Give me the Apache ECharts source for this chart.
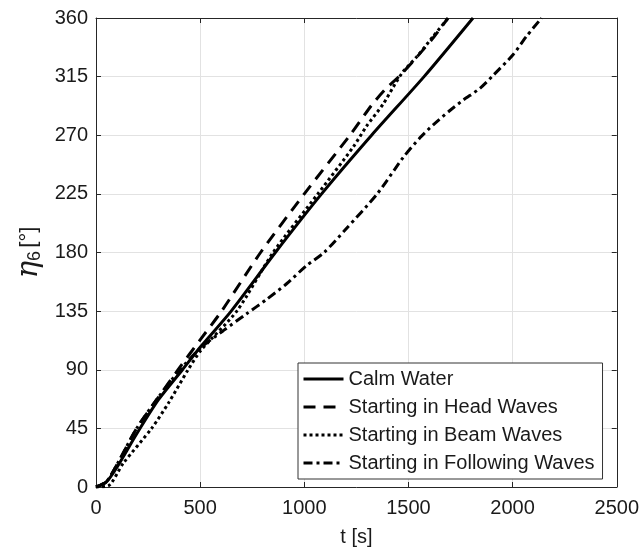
<!DOCTYPE html>
<html><head><meta charset="utf-8">
<script src="https://cdn.jsdelivr.net/npm/echarts@6/dist/echarts.min.js"></script>
<style>html,body{margin:0;padding:0;background:#fff}#c{width:642px;height:553px}</style>
</head><body><div id="c"></div>
<script>
// ---- data ----
const seriesNames = ['Calm Water', 'Starting in Head Waves', 'Starting in Beam Waves', 'Starting in Following Waves'];

const calmT   = [0, 50, 100, 200, 300, 415, 504, 649, 861, 1083, 1323, 1575, 1810];
const calmEta = [0, 4, 15, 42, 67, 90, 108, 135, 180, 225, 270, 315, 360];

const headT   = [0, 50, 100, 195, 300, 394, 500, 603, 790, 1000, 1219, 1323, 1387, 1460, 1540, 1620, 1690];
const headEta = [0, 4, 17, 45, 69, 90, 113, 135, 180, 225, 270, 293, 305, 316, 330, 345, 360];

const beamT   = [0, 60, 130, 267, 350, 442, 504, 676, 850, 1065, 1235, 1299, 1379, 1427, 1475, 1539, 1619, 1691];
const beamEta = [0, 1, 18, 45, 65, 90, 105, 135, 180, 225, 261, 277, 294, 307, 319, 330, 346, 360];

const follT   = [0, 50, 100, 195, 300, 403, 504, 611, 723, 819, 915, 1011, 1095, 1200, 1350, 1475, 1555, 1619, 1699, 1763, 1843, 1907, 2003, 2067, 2139];
const follEta = [0, 4, 17, 45, 69, 90, 107, 120, 133, 144, 156, 170, 180, 198, 225, 253, 268, 278, 289, 297, 306, 316, 332, 346, 360];

const xMin = 0, xMax = 2500, xStep = 500;
const yMin = 0, yMax = 360, yStep = 45;

function pairs(t, e) { return t.map((v, i) => [v, e[i]]); }

const chart = echarts.init(document.getElementById('c'), null, { renderer: 'canvas' });
const font = '"Liberation Sans", Arial, sans-serif';
const axisCol = '#262626';
const gridCol = '#e2e2e2';

function baseAxis(extra) {
  return Object.assign({
    type: 'value',
    axisLine: { show: true, onZero: false, lineStyle: { color: axisCol, width: 1 } },
    axisTick: { show: true, inside: true, length: 5, lineStyle: { color: axisCol, width: 1 } },
    splitLine: { show: false },
    axisLabel: { show: false }
  }, extra);
}

const lineW = 3;
const styles = [
  { type: 'solid' },
  { type: [12, 8] },
  { type: [3, 3] },
  { type: [9, 4, 3, 4] }
];
const dataSets = [pairs(calmT, calmEta), pairs(headT, headEta), pairs(beamT, beamEta), pairs(follT, follEta)];

const option = {
  animation: false,
  backgroundColor: '#fff',
  grid: { left: 96, right: 25, top: 18, bottom: 66, containLabel: false },
  xAxis: [
    baseAxis({
      min: xMin, max: xMax, interval: xStep, position: 'bottom',
      axisLabel: { show: true, color: '#1a1a1a', fontSize: 20, fontFamily: font, margin: 11, formatter: v => String(v) },
      splitLine: { show: true, lineStyle: { color: gridCol, width: 1 } },
      name: 't [s]', nameLocation: 'middle', nameGap: 40,
      nameTextStyle: { color: '#1a1a1a', fontSize: 20, fontFamily: font }
    }),
    baseAxis({ min: xMin, max: xMax, interval: xStep, position: 'top' })
  ],
  yAxis: [
    baseAxis({
      min: yMin, max: yMax, interval: yStep, position: 'left',
      axisLabel: { show: true, color: '#1a1a1a', fontSize: 20, fontFamily: font, margin: 8, formatter: v => String(v) },
      splitLine: { show: true, lineStyle: { color: gridCol, width: 1 } },
      name: '{e|η}{s|6} {n|[°]}', nameLocation: 'middle', nameGap: 52, nameRotate: 90,
      nameTextStyle: {
        color: '#1a1a1a', fontFamily: font,
        rich: {
          e: { fontSize: 29, fontStyle: 'italic', fontFamily: '"DejaVu Serif", serif', color: '#1a1a1a' },
          s: { fontSize: 18, fontFamily: font, verticalAlign: 'bottom', padding: [11, 0, 0, 0], color: '#1a1a1a' },
          n: { fontSize: 22, fontFamily: font, color: '#1a1a1a' }
        }
      }
    }),
    baseAxis({ min: yMin, max: yMax, interval: yStep, position: 'right' })
  ],
  legend: {
    show: true,
    orient: 'vertical',
    left: 298, top: 363,
    backgroundColor: '#fff',
    borderColor: '#333', borderWidth: 1, borderRadius: 0,
    padding: [6, 8, 6, 4],
    itemWidth: 40, itemHeight: 20, itemGap: 8,
    itemStyle: { opacity: 0 },
    lineStyle: { width: 3, color: '#000' },
    textStyle: { fontSize: 20, lineHeight: 20, fontFamily: font, color: '#1a1a1a' },
    data: seriesNames.slice()
  },
  series: seriesNames.map((n, i) => ({
    name: n,
    type: 'line',
    xAxisIndex: 0, yAxisIndex: 0,
    data: dataSets[i],
    smooth: 0.25,
    symbol: 'none',
    showSymbol: false,
    clip: true,
    z: 10 - i,
    lineStyle: { color: '#000', width: lineW, type: styles[i].type },
    itemStyle: { color: '#000' }
  }))
};
chart.setOption(option);
</script>
</body></html>
